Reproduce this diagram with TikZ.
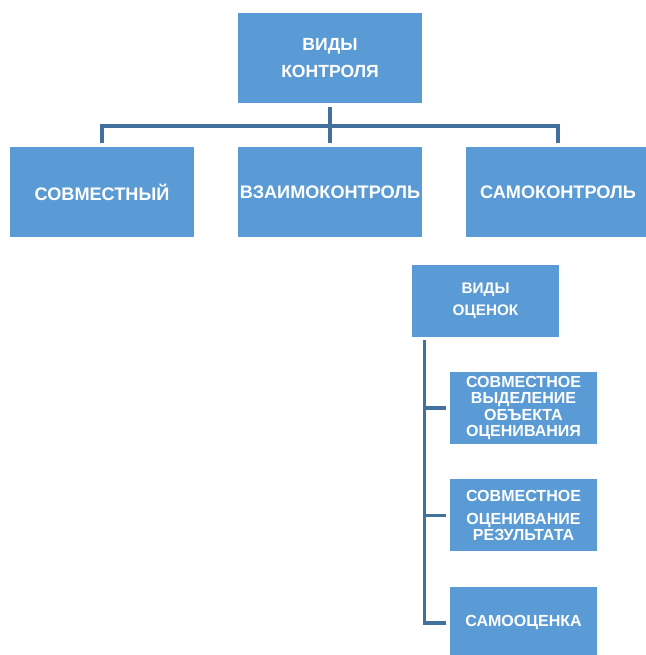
\documentclass[tikz,border=0pt]{standalone}
\usepackage{fontspec}
\setmainfont{Liberation Sans}
\definecolor{boxblue}{HTML}{5B9BD5}
\definecolor{lineblue}{HTML}{41719C}

\begin{document}
\begin{tikzpicture}[
    box/.style={fill=boxblue,text=white,align=center,inner sep=0pt,
      minimum width=4.6cm,minimum height=2.25cm},
    subbox/.style={box,minimum width=3.675cm,minimum height=1.8cm,
      font=\fontsize{11.4}{11.7}\selectfont\bfseries},
    link/.style={draw=lineblue,line width=2.4pt}]
  \useasboundingbox (0,0) rectangle (16.125,16.375);
  % top level
  \node[box,font=\fontsize{12.5}{19}\selectfont\bfseries] (vk) at (8.25,14.925) {ВИДЫ\\КОНТРОЛЯ};
  \node[box,font=\fontsize{12.9}{15}\selectfont\bfseries] (sv) at (2.55,11.575) {СОВМЕСТНЫЙ};
  \node[box,font=\fontsize{12.9}{15}\selectfont\bfseries] (vz) at (8.25,11.575) {ВЗАИМОКОНТРОЛЬ};
  \node[box,font=\fontsize{12.9}{15}\selectfont\bfseries] (sk) at (13.95,11.575) {САМОКОНТРОЛЬ};
  \coordinate (bus) at (8.25,13.225);
  \draw[link] ([yshift=-0.1cm]vk.south) -- ([yshift=0.1cm]vz.north);
  \draw[link] ([yshift=0.1cm]sv.north) |- (bus) -| ([yshift=0.1cm]sk.north);
  % assessments
  \node[subbox,font=\fontsize{10.9}{15.6}\selectfont\bfseries] (vo) at (12.1375,8.85) {ВИДЫ\\ОЦЕНОК};
  \node[subbox] (vyd) at (13.0875,6.175) {СОВМЕСТНОЕ\\ВЫДЕЛЕНИЕ\\ОБЪЕКТА\\ОЦЕНИВАНИЯ};
  \node[subbox] (rez) at (13.0875,3.4875) {СОВМЕСТНОЕ\\[5pt]ОЦЕНИВАНИЕ\\РЕЗУЛЬТАТА};
  \node[subbox] (sam) at (13.0875,0.8) {САМООЦЕНКА};
  \coordinate (trunk) at ([xshift=0.325cm,yshift=-0.075cm]vo.south west);
  \foreach \n in {vyd,rez,sam}
    \draw[link] (trunk) |- ([xshift=-0.1cm]\n.west);
\end{tikzpicture}
\end{document}
